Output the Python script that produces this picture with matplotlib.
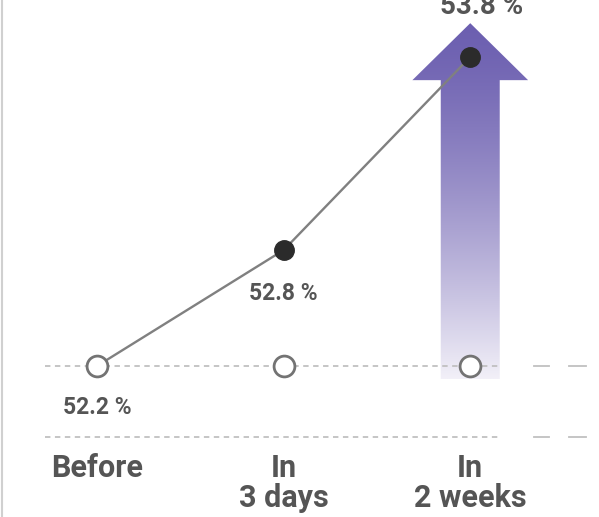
import numpy as np
import matplotlib
matplotlib.use('Agg')
import matplotlib.pyplot as plt
from matplotlib.patches import Polygon

# data
stages  = ['Before', 'In\n3 days', 'In\n2 weeks']
values  = [52.2, 52.8, 53.8]        # share, %
base    = values[0]                 # the "before" level, drawn as open circles
labels  = ['52.2 %', '52.8 %', '53.8 %']

grey_txt = '#555555'
line_col = '#808080'
dash_col = '#c0c0c0'
purple   = np.array([0x6c, 0x5f, 0xb0]) / 255.0
lavender = np.array([0xf2, 0xf0, 0xf8]) / 255.0

plt.rcParams['font.family'] = ['Roboto', 'DejaVu Sans']

fig = plt.figure(figsize=(5.99, 5.17), dpi=100)
ax = fig.add_axes([0, 0, 1, 1])
ax.set_xlim(-0.52, 2.69)
ax.set_ylim(51.418, 54.095)
ax.axis('off')

x = np.arange(len(stages))

# gradient arrow behind the last point
xc = x[-1]
shaft, head = 0.158, 0.31
tip, neck, foot = values[-1] + 0.175, values[-1] - 0.12, base - 0.07
verts = [(xc - shaft, foot), (xc - shaft, neck), (xc - head, neck), (xc, tip),
         (xc + head, neck), (xc + shaft, neck), (xc + shaft, foot)]
arrow = Polygon(verts, closed=True, facecolor='none', edgecolor='none')
ax.add_patch(arrow)
t = np.linspace(0, 1, 256)[:, None]
t = t ** 1.4
grad = (1 - t) * purple + t * lavender          # top -> bottom
grad = grad[:, None, :].repeat(2, axis=1)
im = ax.imshow(grad, extent=[xc - head, xc + head, foot, tip], aspect='auto',
               interpolation='bilinear', zorder=1)
im.set_clip_path(arrow)

# dashed guide lines
low = base - 0.37
for yy in (base, low):
    ax.plot([-0.28, 2.16], [yy, yy], ls=(0, (3, 2.5)), color=dash_col, lw=1.3, zorder=2)
    ax.plot([2.34, 2.42], [yy, yy], color=dash_col, lw=1.3, zorder=2)
    ax.plot([2.53, 2.62], [yy, yy], color=dash_col, lw=1.3, zorder=2)

# trend line and points
ax.plot(x, values, color=line_col, lw=1.7, zorder=3)
ax.plot(x, [base] * len(x), ls='none', marker='o', ms=15, mfc='white',
        mec='#737373', mew=2, zorder=4)
ax.plot(x[1:], values[1:], ls='none', marker='o', ms=14, mfc='#2b2b2b',
        mec='#2b2b2b', zorder=5)

# value labels
ax.annotate(labels[0], (x[0], values[0]), xytext=(0, -30), textcoords='offset points',
            ha='center', va='center', fontsize=16.5, fontweight='bold', color=grey_txt)
ax.annotate(labels[1], (x[1], values[1]), xytext=(0, -31), textcoords='offset points',
            ha='center', va='center', fontsize=16.5, fontweight='bold', color=grey_txt)
ax.annotate(labels[2], (x[2], values[2]), xytext=(8, 36), textcoords='offset points',
            ha='center', va='center', fontsize=20, fontweight='bold', color=grey_txt)

# stage names
for xi, name in zip(x, stages):
    ax.text(xi, low - 0.08, name, ha='center', va='top', fontsize=22,
            fontweight='bold', color=grey_txt, linespacing=1.0)

# faint left border
ax.plot([0.004, 0.004], [0, 1], transform=ax.transAxes, color='#d0d0d0', lw=1.5)

fig.savefig('out.png', dpi=100)
